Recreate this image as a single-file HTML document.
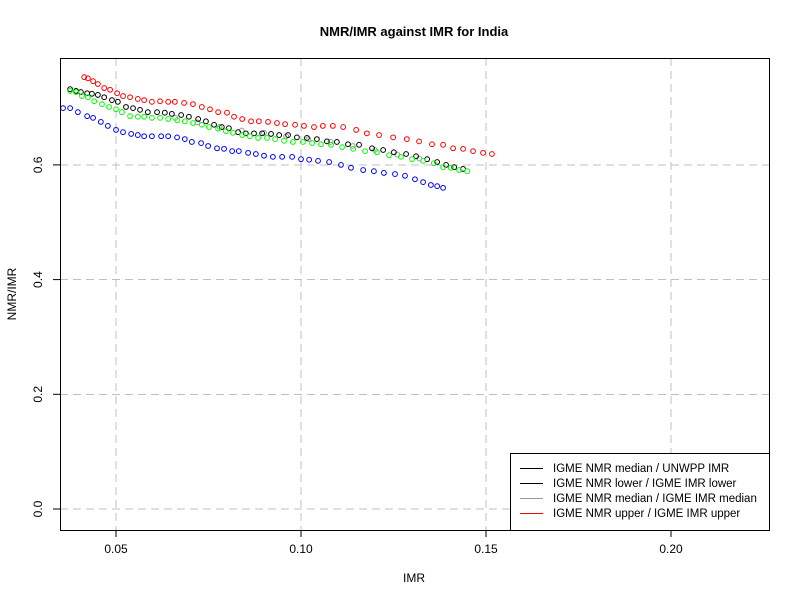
<!DOCTYPE html>
<html><head><meta charset="utf-8"><style>body{margin:0;background:#fff}svg{display:block;font-family:"Liberation Sans",Arial,sans-serif}</style></head>
<body>
<svg id="chart" width="800" height="600">
<text x="414" y="36" text-anchor="middle" font-weight="bold" font-size="13">NMR/IMR against IMR for India</text>
<text x="414" y="582" text-anchor="middle" font-size="12">IMR</text>
<text x="16" y="294" text-anchor="middle" font-size="12" transform="rotate(-90 16 294)">NMR/IMR</text>
<g id="grid" shape-rendering="crispEdges"></g>
<g id="axes"></g>
<g id="points"></g>
<rect x="60.5" y="58.5" width="709" height="472" fill="none" stroke="#000"/>
<g font-size="11.5">
<rect x="510.5" y="453.5" width="259" height="77" fill="#fff" stroke="#000"/>
<g><line x1="520" y1="468.5" x2="543" y2="468.5" stroke="#000"/><text x="553" y="472">IGME NMR median / UNWPP IMR</text></g>
<g><line x1="520" y1="483.5" x2="543" y2="483.5" stroke="#000"/><text x="553" y="487">IGME NMR lower / IGME IMR lower</text></g>
<g><line x1="520" y1="498.5" x2="543" y2="498.5" stroke="#999"/><text x="553" y="502">IGME NMR median / IGME IMR median</text></g>
<g><line x1="520" y1="513.5" x2="543" y2="513.5" stroke="#f00"/><text x="553" y="517">IGME NMR upper / IGME IMR upper</text></g>
</g>
</svg>
<script>
const xTicks=[0.05,0.10,0.15,0.20];
const xTickLabels=["0.05","0.10","0.15","0.20"];
const yTicks=[0,0.2,0.4,0.6];
const yTickLabels=["0.0","0.2","0.4","0.6"];
const blackX=[.0376,.0392,.0405,.0422,.0435,.0451,.0468,.0489,.0505,.0527,.0546,.0565,.0586,.0611,.0632,.0651,.0676,.0697,.0722,.0743,.0765,.0786,.0805,.0830,.0851,.0873,.0895,.0919,.0941,.0965,.0989,.1016,.1043,.1070,.1097,.1127,.1157,.1192,.1222,.1251,.1284,.1311,.1341,.1368,.1392,.1414,.1438];
const blackY=[.732,.729,.727,.725,.724,.722,.718,.713,.710,.701,.699,.696,.692,.692,.691,.689,.687,.684,.680,.676,.670,.666,.664,.657,.655,.655,.655,.654,.652,.652,.648,.647,.645,.641,.640,.636,.635,.629,.626,.622,.619,.615,.610,.605,.600,.596,.593];
const redX=[.0414,.0424,.0438,.0451,.0468,.0484,.0503,.0519,.0538,.0559,.0576,.0597,.0619,.0641,.0659,.0684,.0708,.0732,.0754,.0776,.0800,.0819,.0841,.0865,.0886,.0911,.0935,.0957,.0984,.1008,.1035,.1059,.1086,.1114,.1149,.1178,.1211,.1249,.1286,.1319,.1354,.1384,.1411,.1438,.1465,.1492,.1516];
const redY=[.753,.751,.746,.741,.734,.731,.725,.720,.718,.715,.713,.710,.711,.710,.710,.708,.706,.701,.697,.692,.691,.684,.680,.676,.676,.675,.673,.671,.670,.668,.666,.668,.668,.666,.661,.655,.652,.648,.645,.641,.636,.635,.629,.628,.624,.621,.619];
const greenX=[.0376,.0392,.0408,.0424,.0441,.0462,.0481,.0500,.0516,.0538,.0559,.0576,.0597,.0619,.0641,.0665,.0686,.0708,.0732,.0751,.0776,.0797,.0816,.0841,.0862,.0884,.0908,.0930,.0954,.0978,.1005,.1030,.1054,.1081,.1111,.1141,.1173,.1205,.1238,.1270,.1300,.1330,.1359,.1384,.1405,.1427,.1449];
const greenY=[.729,.727,.720,.718,.711,.706,.701,.697,.692,.685,.684,.684,.682,.682,.680,.678,.676,.673,.670,.666,.663,.659,.656,.652,.650,.647,.647,.645,.642,.640,.640,.638,.636,.635,.631,.628,.624,.622,.617,.614,.610,.607,.603,.596,.595,.591,.589];
const blueX=[.0357,.0376,.0397,.0422,.0438,.0459,.0478,.0500,.0519,.0541,.0559,.0576,.0597,.0622,.0641,.0665,.0686,.0705,.0730,.0749,.0773,.0792,.0814,.0832,.0857,.0878,.0900,.0924,.0949,.0976,.1000,.1022,.1046,.1076,.1108,.1135,.1168,.1197,.1224,.1254,.1281,.1308,.1330,.1351,.1368,.1384];
const blueY=[.699,.699,.692,.685,.682,.675,.668,.661,.657,.654,.652,.650,.650,.650,.650,.648,.645,.640,.638,.633,.629,.628,.624,.624,.621,.619,.616,.614,.614,.614,.610,.609,.607,.605,.600,.595,.591,.589,.586,.584,.581,.575,.570,.565,.563,.560];
const grayX=[.0660,.0720,.0780,.0840,.0900,.0960,.1020,.1080,.1140,.1200,.1260,.1320];
const grayY=[.682,.674,.666,.660,.656,.650,.645,.640,.633,.626,.618,.611];

const NS="http://www.w3.org/2000/svg";
const sx=v=>-69+3700*v;
const sy=v=>509-573.5*v;
const grid=document.getElementById('grid'),axes=document.getElementById('axes'),pts=document.getElementById('points');
function mk(tag,attrs,parent){const e=document.createElementNS(NS,tag);for(const k in attrs)e.setAttribute(k,attrs[k]);parent.appendChild(e);return e;}
xTicks.forEach((t,i)=>{
  const g=mk('line',{x1:sx(t),x2:sx(t),y1:58,y2:530,stroke:'#c0c0c0','stroke-dasharray':'8,5'},grid);
  
  
  const tk=mk('line',{x1:sx(t),x2:sx(t),y1:530,y2:537,stroke:'#000'},axes);
  
  
  const tx=mk('text',{x:sx(t),y:553,'text-anchor':'middle','font-size':'12'},axes);
  tx.textContent=xTickLabels[i];
  
  
});
yTicks.forEach((t,i)=>{
  const g=mk('line',{x1:60,x2:769,y1:sy(t),y2:sy(t),stroke:'#c0c0c0','stroke-dasharray':'8,5'},grid);
  
  
  const tk=mk('line',{x1:53,x2:60,y1:sy(t),y2:sy(t),stroke:'#000'},axes);
  
  
  const tx=mk('text',{x:42,y:sy(t),'text-anchor':'middle','font-size':'12',transform:`rotate(-90 42 ${sy(t)})`},axes);
  tx.textContent=yTickLabels[i];
  
  
});
function series(xs,ys,color,name){
  xs.forEach((x,i)=>{
    const c=mk('circle',{cx:sx(x),cy:sy(ys[i]),r:2.4,fill:'none',stroke:color,'stroke-width':1},pts);
    
    
  });
}
series(grayX,grayY,'#999','point-gray');
series(blackX,blackY,'#000','point-black');
series(redX,redY,'#f00','point-red');
series(greenX,greenY,'#0f0','point-green');
series(blueX,blueY,'#00f','point-blue');
</script>
</body></html>
